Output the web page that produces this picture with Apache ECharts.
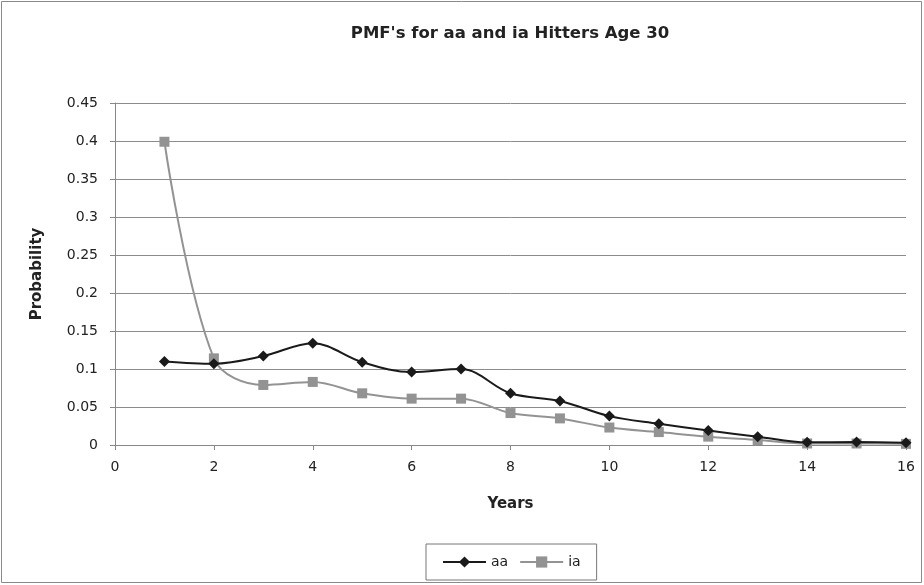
<!DOCTYPE html>
<html><head><meta charset="utf-8">
<script src="https://cdn.jsdelivr.net/npm/echarts@6/dist/echarts.min.js"></script>
<style>html,body{margin:0;padding:0;background:#fff}#c{width:924px;height:585px}</style>
</head><body><div id="c"></div>
<script>
const years = [1,2,3,4,5,6,7,8,9,10,11,12,13,14,15,16];
const aaValues = [0.110,0.107,0.117,0.134,0.109,0.096,0.100,0.068,0.058,0.038,0.028,0.019,0.011,0.0035,0.004,0.003];
const iaValues = [0.399,0.114,0.079,0.083,0.068,0.061,0.061,0.042,0.035,0.023,0.017,0.011,0.0066,0.002,0.002,0.0015];
const yTicks = [0,0.05,0.1,0.15,0.2,0.25,0.3,0.35,0.4,0.45];

const font = '"DejaVu Sans", Verdana, sans-serif';
const chart = echarts.init(document.getElementById('c'), null, {renderer:'canvas'});
chart.setOption({
  animation:false,
  backgroundColor:'#fff',
  graphic:[{type:'rect', shape:{x:1.5,y:1.5,width:920,height:581}, style:{fill:'none',stroke:'#8a8a8a',lineWidth:1}}],
  title:{text:"PMF's for aa and ia Hitters Age 30", left:510, textAlign:'center', top:25, padding:0,
    textStyle:{fontFamily:font,fontSize:16.5,fontWeight:'bold',color:'#222'}},
  grid:{left:115,right:18,top:103,bottom:140,containLabel:false},
  legend:{left:426, top:544, padding:[11,16,11,16], borderColor:'#777', borderWidth:1,
    itemWidth:43, itemHeight:14, itemGap:11,
    textStyle:{fontFamily:font,fontSize:14,color:'#222'},
    data:['aa','ia']},
  xAxis:{type:'value', min:0, max:16, interval:2, name:'Years', nameLocation:'middle', nameGap:52,
    nameTextStyle:{fontFamily:font,fontSize:15,fontWeight:'bold',color:'#222'},
    axisLine:{lineStyle:{color:'#888'}}, axisTick:{show:true,length:5,lineStyle:{color:'#888'}},
    axisLabel:{fontFamily:font,fontSize:14,color:'#222',margin:15},
    splitLine:{show:false}},
  yAxis:{type:'value', min:0, max:0.45, interval:0.05, name:'Probability', nameLocation:'middle', nameGap:70, nameRotate:90,
    nameTextStyle:{fontFamily:font,fontSize:15,fontWeight:'bold',color:'#222'},
    axisLine:{show:true,lineStyle:{color:'#888'}}, axisTick:{show:true,length:5,lineStyle:{color:'#888'}},
    axisLabel:{fontFamily:font,fontSize:14,color:'#222',margin:17,
      formatter:v=>{const t=yTicks.find(x=>Math.abs(x-v)<1e-9); return String(+(t!==undefined?t:v).toFixed(2));}},
    splitLine:{show:true,lineStyle:{color:'#8c8c8c',width:1}}},
  series:[
    {name:'aa', type:'line', smooth:0.35, data:years.map((x,i)=>[x,aaValues[i]]),
      symbol:'diamond', symbolSize:11, z:3,
      lineStyle:{color:'#1a1a1a',width:2}, itemStyle:{color:'#1a1a1a'}},
    {name:'ia', type:'line', smooth:0.35, data:years.map((x,i)=>[x,iaValues[i]]),
      symbol:'rect', symbolSize:10, z:2,
      lineStyle:{color:'#939393',width:2}, itemStyle:{color:'#939393'}}
  ]
});
</script></body></html>
